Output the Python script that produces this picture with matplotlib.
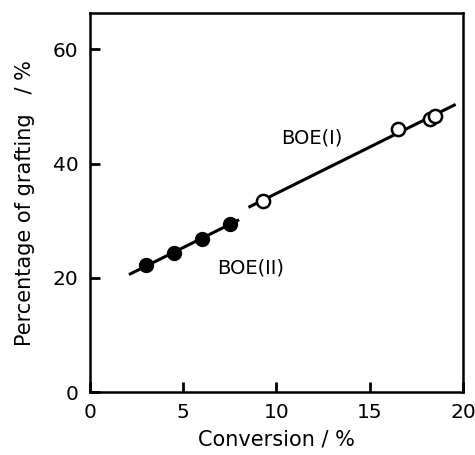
import numpy as np
import matplotlib
matplotlib.use("Agg")
import matplotlib.pyplot as plt

# BOE(II): filled circles, BOE(I): open circles
conv_ii = [3.0, 4.5, 6.0, 7.5]
graft_ii = [22.2, 24.3, 26.8, 29.5]
conv_i = [9.3, 16.5, 18.2, 18.5]
graft_i = [33.5, 46.0, 47.8, 48.3]

# x-range over which each fitted line is drawn
span_ii = [2.1, 8.0]
span_i = [8.5, 19.6]

xticks = [0, 5, 10, 15, 20]
yticks = [0, 20, 40, 60]

plt.rcParams['font.family'] = 'DejaVu Sans'

fig = plt.figure(figsize=(4.75, 4.55), dpi=100)
ax = fig.add_axes([0.189, 0.138, 0.786, 0.833])

for cx, gy, span in [(conv_ii, graft_ii, span_ii), (conv_i, graft_i, span_i)]:
    p = np.polyfit(cx, gy, 1)
    xs = np.array(span)
    ax.plot(xs, np.polyval(p, xs), color='black', lw=2.2, solid_capstyle='butt')

ax.plot(conv_ii, graft_ii, 'o', ms=9.5, mfc='black', mec='black', mew=1.5)
ax.plot(conv_i, graft_i, 'o', ms=9.5, mfc='white', mec='black', mew=1.8)

ax.text(11.9, 44.4, 'BOE(I)', fontsize=14, ha='center', va='center')
ax.text(8.6, 21.7, 'BOE(II)', fontsize=14, ha='center', va='center')

ax.set_xlim(0, 20)
ax.set_ylim(0, 66.3)
ax.set_xticks(xticks)
ax.set_yticks(yticks)
ax.tick_params(direction='in', length=7, width=2, labelsize=14.5, pad=8)
for s in ax.spines.values():
    s.set_linewidth(1.8)

ax.set_xlabel('Conversion / %', fontsize=15, labelpad=5)
ax.set_ylabel('Percentage of grafting   / %', fontsize=15, labelpad=13)

fig.savefig('out.png', dpi=100)
